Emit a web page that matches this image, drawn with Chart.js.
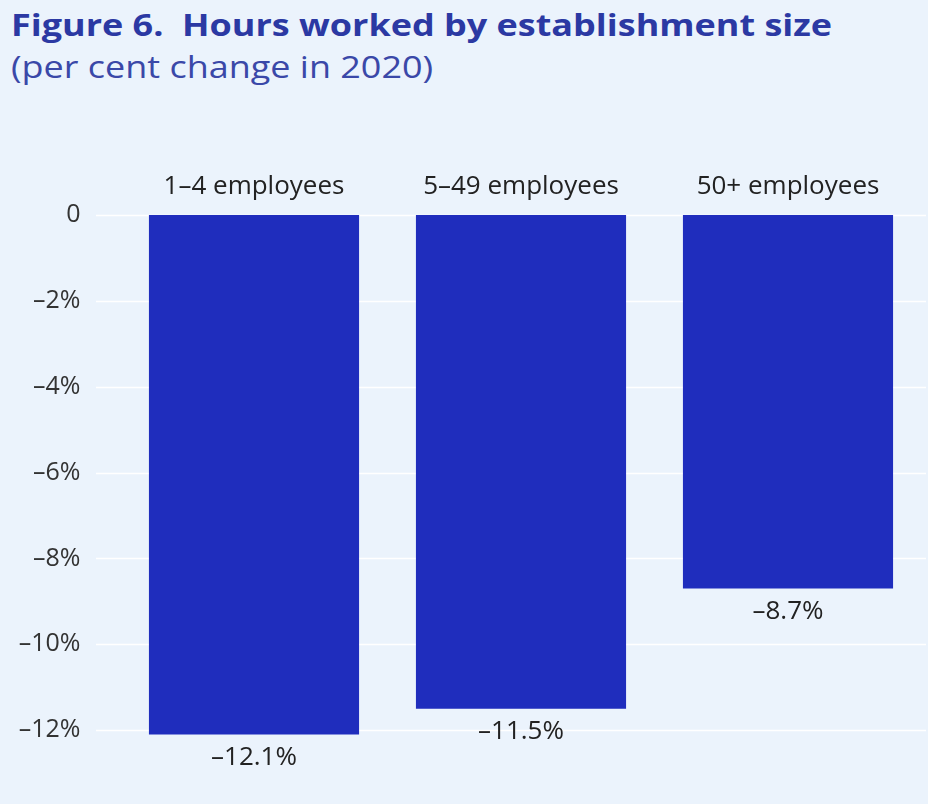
<!DOCTYPE html>
<html>
<head>
<meta charset="utf-8">
<script src="https://cdn.jsdelivr.net/npm/chart.js@4.4.1/dist/chart.umd.min.js"></script>
<style>
  html, body { margin: 0; padding: 0; background: #ebf3fc; }
  #wrap { position: relative; width: 928px; height: 804px; overflow: hidden; }
  #wrap canvas { position: absolute; left: 0; top: 0; }
  .heading {
    position: absolute; left: 11px; margin: 0; line-height: 1; white-space: pre;
    font-family: "Open Sans", sans-serif; font-size: 31px;
    transform: scaleX(1.16); transform-origin: left top;
  }
  #title { top: 9px; font-weight: 700; color: #2b39a3; }
  #subtitle { top: 51px; font-weight: 400; color: #3a48a8; }
</style>
</head>
<body>
<div id="wrap">
  <div id="title" class="heading">Figure 6.  Hours worked by establishment size</div>
  <div id="subtitle" class="heading">(per cent change in 2020)</div>
  <canvas id="chartHoras" width="928" height="804"></canvas>
</div>
<script>
const categorias = ["1–4 employees", "5–49 employees", "50+ employees"];
const cambioHoras = [-12.1, -11.5, -8.7];
const yTicks = [0, -2, -4, -6, -8, -10, -12];

const formatoPct = v => v === 0 ? "0" : "–" + Math.abs(v) + "%";

// white horizontal guides, wider than the plot area
const lineasGuia = {
  id: "lineasGuia",
  beforeDatasetsDraw(chart) {
    const { ctx, scales: { y } } = chart;
    ctx.save();
    ctx.strokeStyle = "#ffffff";
    ctx.lineWidth = 1.5;
    yTicks.forEach(v => {
      const py = Math.round(y.getPixelForValue(v)) + 0.5;
      ctx.beginPath();
      ctx.moveTo(96, py);
      ctx.lineTo(926, py);
      ctx.stroke();
    });
    ctx.restore();
  }
};

// value under each bar
const etiquetasValor = {
  id: "etiquetasValor",
  afterDatasetsDraw(chart) {
    const { ctx } = chart;
    const meta = chart.getDatasetMeta(0);
    ctx.save();
    ctx.font = "26px 'Open Sans'";
    ctx.fillStyle = "#222222";
    ctx.textAlign = "center";
    ctx.textBaseline = "middle";
    meta.data.forEach((bar, i) => {
      const v = chart.data.datasets[0].data[i];
      ctx.fillText("–" + Math.abs(v).toFixed(1) + "%", bar.x, bar.y + 23);
    });
    ctx.restore();
  }
};

new Chart(document.getElementById("chartHoras"), {
  type: "bar",
  data: {
    labels: categorias,
    datasets: [{
      data: cambioHoras,
      backgroundColor: "#1f2dbd",
      borderWidth: 0,
      barPercentage: 0.787,
      categoryPercentage: 1
    }]
  },
  options: {
    responsive: false,
    animation: false,
    layout: { padding: { top: 155, right: 6.5, bottom: 7, left: 0 } },
    plugins: {
      legend: { display: false },
      tooltip: { enabled: false }
    },
    scales: {
      x: {
        position: "top",
        grid: { display: false, drawTicks: false },
        border: { display: false },
        ticks: { color: "#222222", font: { family: "Open Sans", size: 26 }, padding: 13 },
        afterFit: s => { s.height = 60; }
      },
      y: {
        min: -12.44,
        max: 0,
        grid: { display: false, drawTicks: false },
        border: { display: false },
        afterBuildTicks: s => { s.ticks = yTicks.map(v => ({ value: v })); },
        ticks: {
          color: "#333333",
          font: { family: "Open Sans", size: 25 },
          padding: 40,
          callback: v => formatoPct(v)
        },
        afterFit: s => { s.width = 120.5; }
      }
    }
  },
  plugins: [lineasGuia, etiquetasValor]
});
</script>
</body>
</html>
